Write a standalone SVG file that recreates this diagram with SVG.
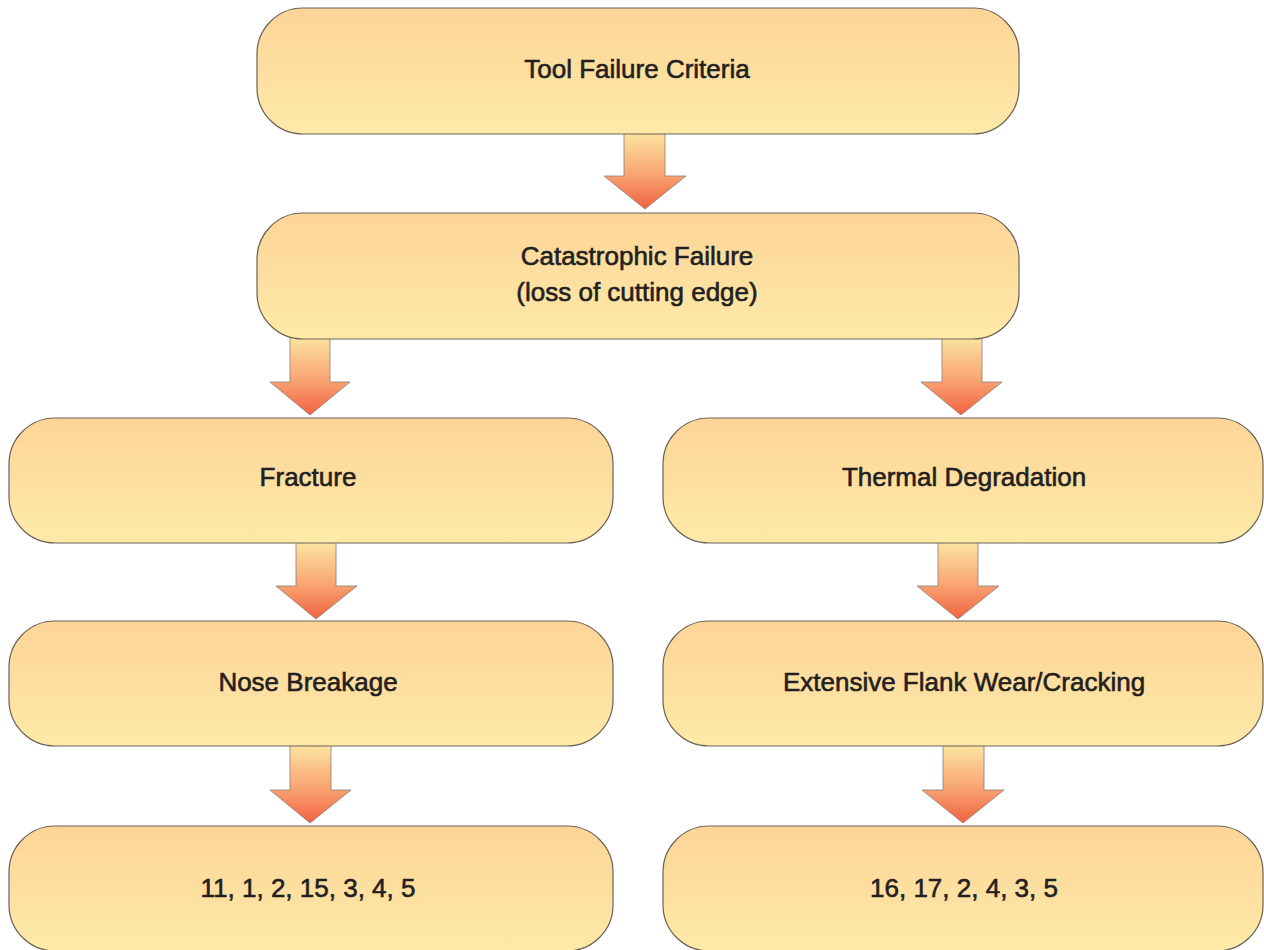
<svg xmlns="http://www.w3.org/2000/svg" width="1264" height="950" viewBox="0 0 1264 950">
<defs>
<linearGradient id="boxg" x1="0" y1="0" x2="0" y2="1">
<stop offset="0" stop-color="#fdd498"/>
<stop offset="1" stop-color="#feeaa8"/>
</linearGradient>
<linearGradient id="arrg" x1="0" y1="0" x2="0" y2="1">
<stop offset="0" stop-color="#fde8a4"/>
<stop offset="0.55" stop-color="#f9a673"/>
<stop offset="1" stop-color="#f0623f"/>
</linearGradient>
<style>
.box{fill:url(#boxg);stroke:#6b6257;stroke-width:1.2}
.arr{fill:url(#arrg);stroke:#8a7f78;stroke-width:0.8}
.t{font-family:"Liberation Sans",Arial,sans-serif;font-size:26px;fill:#231f20;stroke:#231f20;stroke-width:0.6;text-anchor:middle}
</style>
</defs>
<g id="connectors">
<path class="arr" d="M624,130 L665,130 L665,176 L686,176 L645,209 L604,176 L624,176 Z"/>
<path class="arr" d="M290,335 L330,335 L330,382 L350,382 L310,415 L270,382 L290,382 Z"/>
<path class="arr" d="M942,335 L982,335 L982,382 L1002,382 L961,415 L921,382 L942,382 Z"/>
<path class="arr" d="M296,540 L336,540 L336,586 L357,586 L316,619 L276,586 L296,586 Z"/>
<path class="arr" d="M938,540 L978,540 L978,586 L999,586 L958,619 L917,586 L938,586 Z"/>
<path class="arr" d="M290,743 L331,743 L331,790 L351,790 L310,823 L270,790 L290,790 Z"/>
<path class="arr" d="M943,743 L984,743 L984,790 L1004,790 L963,823 L922,790 L943,790 Z"/>
</g>
<g id="n1"><rect class="box" x="257" y="8" width="762" height="126" rx="46" ry="46"/><text class="t" x="637" y="78">Tool Failure Criteria</text></g>
<g id="n2"><rect class="box" x="257" y="213" width="762" height="126" rx="46" ry="46"/><text class="t" x="637" y="265">Catastrophic Failure</text><text class="t" x="637" y="301">(loss of cutting edge)</text></g>
<g id="n3"><rect class="box" x="9" y="418" width="604" height="125" rx="46" ry="46"/><text class="t" x="308" y="486">Fracture</text></g>
<g id="n4"><rect class="box" x="663" y="418" width="600" height="125" rx="46" ry="46"/><text class="t" x="964" y="486">Thermal Degradation</text></g>
<g id="n5"><rect class="box" x="9" y="621" width="604" height="125" rx="46" ry="46"/><text class="t" x="308" y="691">Nose Breakage</text></g>
<g id="n6"><rect class="box" x="663" y="621" width="600" height="125" rx="46" ry="46"/><text class="t" x="964" y="691">Extensive Flank Wear/Cracking</text></g>
<g id="n7"><rect class="box" x="9" y="826" width="604" height="125" rx="46" ry="46"/><text class="t" x="308" y="897">11, 1, 2, 15, 3, 4, 5</text></g>
<g id="n8"><rect class="box" x="663" y="826" width="600" height="125" rx="46" ry="46"/><text class="t" x="964" y="897">16, 17, 2, 4, 3, 5</text></g>
</svg>
